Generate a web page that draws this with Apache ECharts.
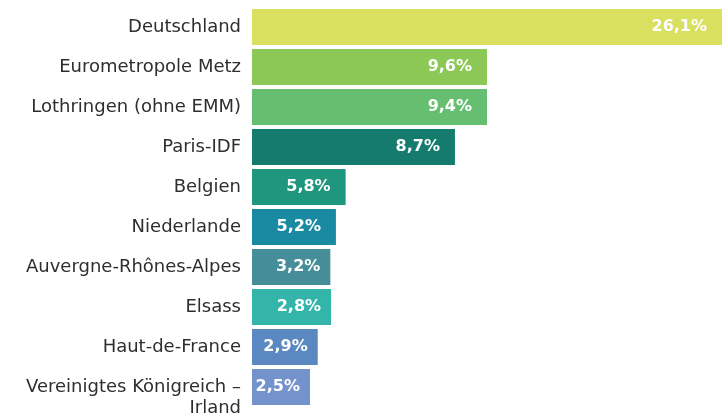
<!DOCTYPE html>
<html>
<head>
<meta charset="utf-8">
<script src="https://cdn.jsdelivr.net/npm/echarts@6/dist/echarts.min.js"></script>
<style>
    html, body { margin: 0; padding: 0; background: #fff; }
    #chart { width: 722px; height: 419px; }
</style>
</head>
<body>
<div id="chart"></div>
<script>
    // Regionen (von oben nach unten)
    const regionen = [
        'Deutschland',
        'Eurometropole Metz',
        'Lothringen (ohne EMM)',
        'Paris-IDF',
        'Belgien',
        'Niederlande',
        'Auvergne-Rhônes-Alpes',
        'Elsass',
        'Haut-de-France',
        'Vereinigtes Königreich –\nIrland'
    ]
    // Beschriftung der Balken
    const anteile = ['26,1%', '9,6%', '9,4%', '8,7%', '5,8%', '5,2%', '3,2%', '2,8%', '2,9%', '2,5%']
    // Balkenlängen (nicht proportional zu den Beschriftungen)
    const balkenLaengen = [26.1, 13.05, 13.05, 11.27, 5.2, 4.66, 4.35, 4.39, 3.65, 3.22]
    const farben = ['#d9df5f', '#8bc856', '#66bf71', '#147b6e', '#21967f', '#1a89a2', '#458d98', '#33b5a9', '#5b88c1', '#7493cc']

    const chart = echarts.init(document.getElementById('chart'))

    const option = {
        animation: false,
        grid: {
            left: 252,
            right: 0,
            top: 7,
            bottom: 12
        },
        xAxis: {
            type: 'value',
            min: 0,
            max: 26.1,
            show: false
        },
        yAxis: {
            type: 'category',
            inverse: true,
            data: regionen,
            axisLine: { show: false },
            axisTick: { show: false },
            splitLine: { show: false },
            axisLabel: {
                interval: 0,
                hideOverlap: false,
                showMaxLabel: true,
                showMinLabel: true,
                margin: 11,
                color: '#2e2e2e',
                fontFamily: 'DejaVu Sans',
                fontSize: 18,
                lineHeight: 21,
                align: 'right',
                // zweizeilige Beschriftung: erste Zeile auf Balkenmitte
                formatter: function (v) {
                    return v.indexOf('\n') >= 0 ? '\n' + v : v
                }
            }
        },
        series: [
            {
                type: 'bar',
                barCategoryGap: '10%',
                data: balkenLaengen.map(function (v, i) {
                    return {
                        value: v,
                        itemStyle: { color: farben[i] },
                        // kurze Balken: Beschriftung näher an den Rand
                        label: { distance: v < 4.5 ? 10 : 15 }
                    }
                }),
                label: {
                    show: true,
                    position: 'insideRight',
                    color: '#fff',
                    fontFamily: 'DejaVu Sans',
                    fontWeight: 'bold',
                    fontSize: 16,
                    formatter: function (p) {
                        return anteile[p.dataIndex]
                    }
                }
            }
        ]
    }
    chart.setOption(option)
</script>
</body>
</html>
